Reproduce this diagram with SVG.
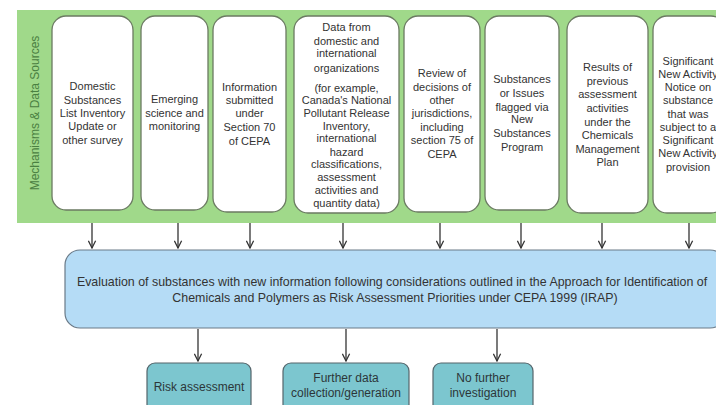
<svg xmlns="http://www.w3.org/2000/svg" width="716" height="405" viewBox="0 0 716 405">
  <defs>
    <style>
      .src { fill: #ffffff; stroke: #6b7a62; stroke-width: 1.3; }
      .t { font-family: "Liberation Sans", Arial, sans-serif; font-size: 11px; fill: #333333; text-anchor: middle; }
      .big { font-size: 12.4px; }
      .mid { font-size: 12px; fill: #2c3639; }
      .wire { stroke: #333333; stroke-width: 1.3; fill: none; }
      .out { fill: #7cc6cf; stroke: #55656b; stroke-width: 1.2; }
    </style>
    <marker id="arr" viewBox="0 0 10 10" refX="9" refY="5" markerWidth="9" markerHeight="9" markerUnits="userSpaceOnUse" orient="auto">
      <path d="M1,1 L9,5 L1,9" fill="none" stroke="#333333" stroke-width="1.4"/>
    </marker>
  </defs>

  <rect width="716" height="405" fill="#ffffff"/>

  <!-- source band -->
  <g id="band">
    <rect x="17" y="10" width="710" height="213" fill="#a0d98a"/>
    <text class="t" transform="translate(39,113) rotate(-90)" style="font-size:12px;fill:#4a8041">Mechanisms &amp; Data Sources</text>
  </g>

  <g id="src1">
    <rect class="src" x="52" y="16" width="81" height="194" rx="14"/>
    <text class="t" x="92.5" y="90">Domestic</text>
    <text class="t" x="92.5" y="104">Substances</text>
    <text class="t" x="92.5" y="117">List Inventory</text>
    <text class="t" x="92.5" y="130">Update or</text>
    <text class="t" x="92.5" y="144">other survey</text>
  </g>

  <g id="src2">
    <rect class="src" x="141" y="16" width="67" height="194" rx="14"/>
    <text class="t" x="174.5" y="103">Emerging</text>
    <text class="t" x="174.5" y="117">science and</text>
    <text class="t" x="174.5" y="130">monitoring</text>
  </g>

  <g id="src3">
    <rect class="src" x="213" y="16" width="73" height="196" rx="14"/>
    <text class="t" x="249.5" y="91">Information</text>
    <text class="t" x="249.5" y="104">submitted</text>
    <text class="t" x="249.5" y="117">under</text>
    <text class="t" x="249.5" y="131">Section 70</text>
    <text class="t" x="249.5" y="145">of CEPA</text>
  </g>

  <g id="src4">
    <rect class="src" x="294" y="16" width="105" height="197" rx="14"/>
    <text class="t" x="346.5" y="31">Data from</text>
    <text class="t" x="346.5" y="45">domestic and</text>
    <text class="t" x="346.5" y="57">international</text>
    <text class="t" x="346.5" y="72">organizations</text>
    <text class="t" x="346.5" y="92">(for example,</text>
    <text class="t" x="346.5" y="104">Canada's National</text>
    <text class="t" x="346.5" y="117">Pollutant Release</text>
    <text class="t" x="346.5" y="130">Inventory,</text>
    <text class="t" x="346.5" y="142">international</text>
    <text class="t" x="346.5" y="156">hazard</text>
    <text class="t" x="346.5" y="168">classifications,</text>
    <text class="t" x="346.5" y="181">assessment</text>
    <text class="t" x="346.5" y="194">activities and</text>
    <text class="t" x="346.5" y="207">quantity data)</text>
  </g>

  <g id="src5">
    <rect class="src" x="404" y="16" width="76" height="196" rx="14"/>
    <text class="t" x="442" y="77">Review of</text>
    <text class="t" x="442" y="91">decisions of</text>
    <text class="t" x="442" y="104">other</text>
    <text class="t" x="442" y="117">jurisdictions,</text>
    <text class="t" x="442" y="131">including</text>
    <text class="t" x="442" y="144">section 75 of</text>
    <text class="t" x="442" y="158">CEPA</text>
  </g>

  <g id="src6">
    <rect class="src" x="485" y="16" width="74" height="194" rx="14"/>
    <text class="t" x="522" y="83">Substances</text>
    <text class="t" x="522" y="97">or Issues</text>
    <text class="t" x="522" y="111">flagged via</text>
    <text class="t" x="522" y="123">New</text>
    <text class="t" x="522" y="137">Substances</text>
    <text class="t" x="522" y="151">Program</text>
  </g>

  <g id="src7">
    <rect class="src" x="567" y="16" width="81" height="197" rx="14"/>
    <text class="t" x="607.5" y="71">Results of</text>
    <text class="t" x="607.5" y="85">previous</text>
    <text class="t" x="607.5" y="98">assessment</text>
    <text class="t" x="607.5" y="112">activities</text>
    <text class="t" x="607.5" y="126">under the</text>
    <text class="t" x="607.5" y="139">Chemicals</text>
    <text class="t" x="607.5" y="153">Management</text>
    <text class="t" x="607.5" y="166">Plan</text>
  </g>

  <g id="src8">
    <rect class="src" x="653" y="16" width="72" height="197" rx="14"/>
    <text class="t" x="688" y="65">Significant</text>
    <text class="t" x="688" y="78">New Activity</text>
    <text class="t" x="688" y="91">Notice on</text>
    <text class="t" x="688" y="104">substance</text>
    <text class="t" x="688" y="118">that was</text>
    <text class="t" x="688" y="131">subject to a</text>
    <text class="t" x="688" y="144">Significant</text>
    <text class="t" x="688" y="157">New Activity</text>
    <text class="t" x="688" y="171">provision</text>
  </g>

  <!-- evaluation step -->
  <g id="evaluation">
    <rect x="65" y="250" width="660" height="78" rx="15" fill="#b5dcf6" stroke="#6a7a88" stroke-width="1.2"/>
    <text class="t big" x="392" y="286">Evaluation of substances with new information following considerations outlined in the Approach for Identification of</text>
    <text class="t big" x="395" y="302">Chemicals and Polymers as Risk Assessment Priorities under CEPA 1999 (IRAP)</text>
  </g>

  <!-- outcomes -->
  <g id="risk">
    <rect class="out" x="147" y="363" width="104" height="50" rx="8"/>
    <text class="t mid" x="199" y="391">Risk assessment</text>
  </g>
  <g id="further">
    <rect class="out" x="283" y="363" width="126" height="50" rx="8"/>
    <text class="t mid" x="346" y="382">Further  data</text>
    <text class="t mid" x="346" y="397">collection/generation</text>
  </g>
  <g id="nofurther">
    <rect class="out" x="433" y="363" width="100" height="50" rx="8"/>
    <text class="t mid" x="483" y="382">No further</text>
    <text class="t mid" x="483" y="397">investigation</text>
  </g>

  <!-- connectors -->
  <g id="connectors" class="wire">
    <line x1="92" y1="223" x2="92" y2="248" marker-end="url(#arr)"/>
    <line x1="178" y1="223" x2="178" y2="248" marker-end="url(#arr)"/>
    <line x1="250" y1="223" x2="250" y2="248" marker-end="url(#arr)"/>
    <line x1="343" y1="223" x2="343" y2="248" marker-end="url(#arr)"/>
    <line x1="440" y1="223" x2="440" y2="248" marker-end="url(#arr)"/>
    <line x1="521" y1="223" x2="521" y2="248" marker-end="url(#arr)"/>
    <line x1="602" y1="223" x2="602" y2="248" marker-end="url(#arr)"/>
    <line x1="689" y1="223" x2="689" y2="248" marker-end="url(#arr)"/>
    <line x1="198" y1="329" x2="198" y2="361" marker-end="url(#arr)"/>
    <line x1="346" y1="329" x2="346" y2="361" marker-end="url(#arr)"/>
    <line x1="497" y1="329" x2="497" y2="361" marker-end="url(#arr)"/>
  </g>
</svg>
